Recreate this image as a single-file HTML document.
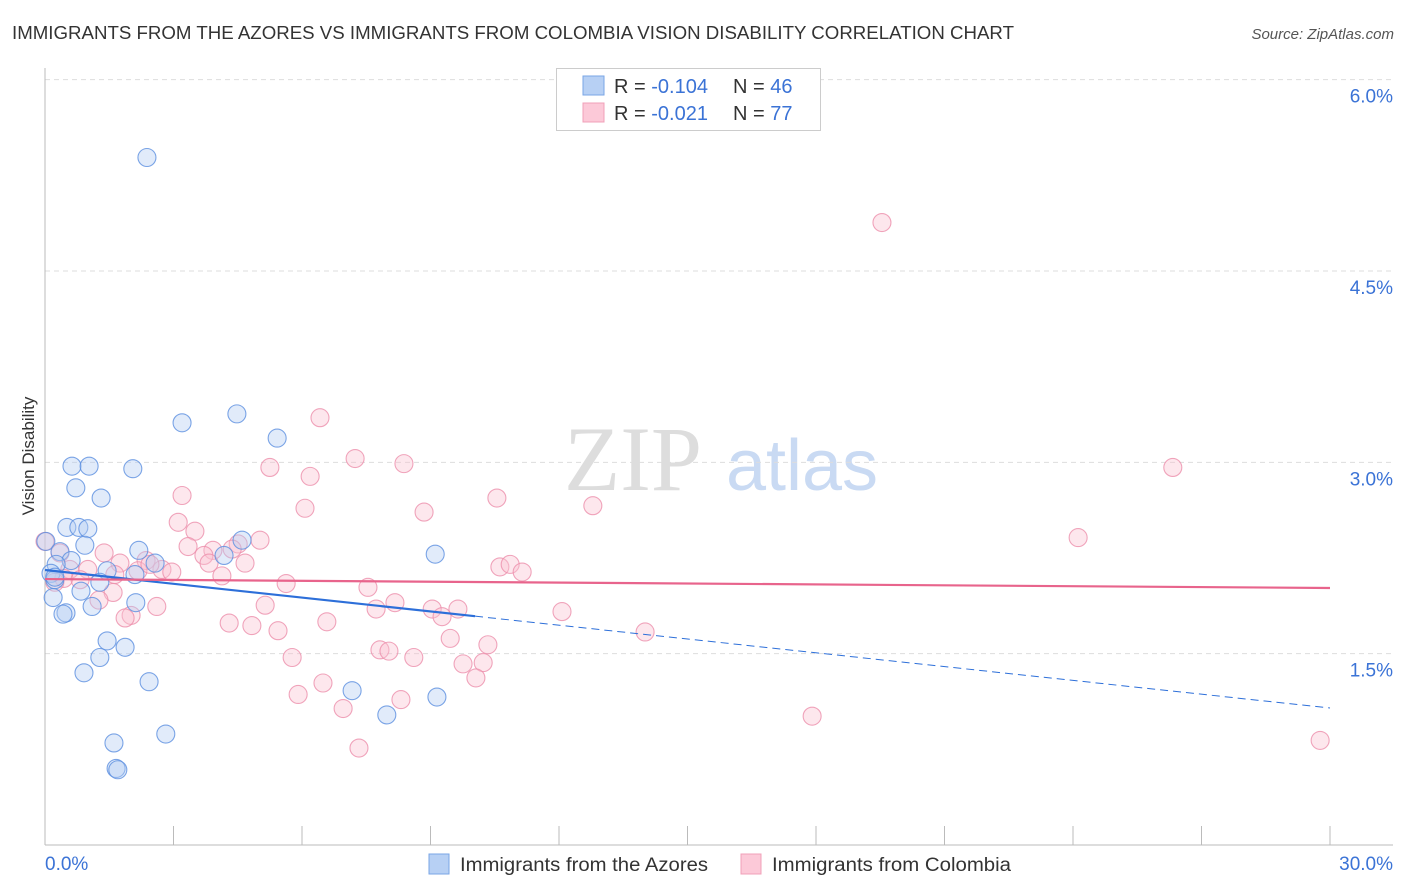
<!DOCTYPE html>
<html><head><meta charset="utf-8"><style>
body{margin:0;background:#fff;font-family:"Liberation Sans",sans-serif;}
svg{display:block}
</style></head><body>
<svg id="chart" width="1406" height="892" viewBox="0 0 1406 892">
<text x="12" y="39" font-size="18" fill="#333" textLength="1002" lengthAdjust="spacingAndGlyphs">IMMIGRANTS FROM THE AZORES VS IMMIGRANTS FROM COLOMBIA VISION DISABILITY CORRELATION CHART</text>
<text x="1394" y="39" font-size="15" fill="#555" font-style="italic" text-anchor="end">Source: ZipAtlas.com</text>
<text x="0" y="0" transform="translate(34,456) rotate(-90)" font-size="17" fill="#333" text-anchor="middle">Vision Disability</text>
<g>
<text x="633" y="490" font-size="92" font-family="Liberation Serif,serif" fill="#ddd" text-anchor="middle">ZIP</text>
<text x="802" y="490" font-size="72" fill="#c9daf3" text-anchor="middle">atlas</text>
</g>
<g id="grid"></g><g id="axes"></g><g id="pts"></g><g id="lines"></g>
<g>
<rect x="556.5" y="68.5" width="264" height="62" fill="#fff" stroke="#ccc"/>
<rect x="583" y="76" width="21" height="19" fill="#b7d0f4" stroke="#7aa6e6"/>
<rect x="583" y="103" width="21" height="19" fill="#fcc9d8" stroke="#f0a0b8"/>
<text x="614" y="93" font-size="20" fill="#333">R = <tspan fill="#3b73d6">-0.104</tspan><tspan x="733">N = </tspan><tspan fill="#3b73d6">46</tspan></text>
<text x="614" y="120" font-size="20" fill="#333">R = <tspan fill="#3b73d6">-0.021</tspan><tspan x="733">N = </tspan><tspan fill="#3b73d6">77</tspan></text>
</g>
<g>
<rect x="429" y="854" width="20" height="20" fill="#b7d0f4" stroke="#7aa6e6"/>
<text x="460" y="871" font-size="19" fill="#333" textLength="248" lengthAdjust="spacingAndGlyphs">Immigrants from the Azores</text>
<rect x="741" y="854" width="20" height="20" fill="#fcc9d8" stroke="#f0a0b8"/>
<text x="772" y="871" font-size="19" fill="#333" textLength="239" lengthAdjust="spacingAndGlyphs">Immigrants from Colombia</text>
</g>
</svg>
<script>
const blueX=[2.38,4.48,3.20,5.42,0.63,1.03,2.05,0.72,1.31,0.51,0.79,1.00,4.60,0.93,0.02,2.19,0.35,9.11,4.18,0.61,0.26,2.57,1.45,0.14,2.10,0.23,0.84,0.19,2.12,1.10,0.49,0.42,1.45,1.87,1.28,0.91,2.43,7.17,9.15,7.98,2.82,1.61,1.66,1.70,0.23,1.28];
const blueY=[5.39,3.38,3.31,3.19,2.97,2.97,2.95,2.80,2.72,2.49,2.49,2.48,2.39,2.35,2.38,2.31,2.30,2.28,2.27,2.23,2.20,2.21,2.15,2.13,2.12,2.08,1.99,1.94,1.90,1.87,1.82,1.81,1.60,1.55,1.47,1.35,1.28,1.21,1.16,1.02,0.87,0.80,0.60,0.59,2.10,2.06];
const pinkX=[19.54,6.42,7.24,8.38,26.33,5.25,6.19,3.20,10.55,6.07,8.85,12.79,3.11,3.50,24.12,5.02,4.51,0.00,3.34,3.92,4.37,3.71,1.38,0.35,2.36,3.83,10.62,4.67,1.75,10.86,2.73,0.58,1.00,11.14,1.63,2.96,2.17,4.13,0.44,0.23,5.63,7.54,1.59,5.14,8.17,2.61,9.04,9.64,7.73,12.07,2.01,1.87,9.27,4.30,4.83,6.58,5.44,9.46,14.01,10.34,7.82,8.03,8.61,5.77,9.76,10.23,6.49,10.06,5.91,8.31,6.96,17.91,7.33,29.77,1.26,2.45,0.82];
const pinkY=[4.88,3.35,3.03,2.99,2.96,2.96,2.89,2.74,2.72,2.64,2.61,2.66,2.53,2.46,2.41,2.39,2.36,2.38,2.34,2.31,2.32,2.27,2.29,2.29,2.23,2.21,2.18,2.21,2.21,2.20,2.16,2.16,2.16,2.14,2.12,2.14,2.15,2.11,2.09,2.06,2.05,2.02,1.98,1.88,1.90,1.87,1.85,1.85,1.85,1.83,1.80,1.78,1.79,1.74,1.72,1.75,1.68,1.62,1.67,1.57,1.53,1.52,1.47,1.47,1.42,1.43,1.27,1.31,1.18,1.14,1.07,1.01,0.76,0.82,1.92,2.20,2.08];
const yTicks=[1.5,3.0,4.5,6.0];
const xTickLabels=["0.0%","30.0%"];
const blueTrend=[2.156,1.074];
const pinkTrend=[2.085,2.015];
const blueSolidEnd=10.04;
const NS="http://www.w3.org/2000/svg";
const X=v=>45+v/30*1285;
const Y=v=>845-v/1.5*191.33;
function mk(parent,tag,attrs){const e=document.createElementNS(NS,tag);for(const k in attrs)e.setAttribute(k,attrs[k]);document.getElementById(parent).appendChild(e);return e;}
yTicks.forEach(t=>{
  const g=mk('grid','line',{x1:45,x2:1393,y1:Y(t),y2:Y(t),stroke:'#ddd','stroke-dasharray':'5,4'});
  
  
  const l=mk('grid','text',{x:1393,y:Y(t)+23,'font-size':19,fill:'#3b73d6','text-anchor':'end'});
  l.textContent=t.toFixed(1)+'%';
  
  
});
const ax=mk('axes','line',{x1:45,x2:1393,y1:845,y2:845,stroke:'#bbb'});


const ay=mk('axes','line',{x1:45,x2:45,y1:68,y2:845,stroke:'#bbb'});


for(let i=1;i<=10;i++){
  const t=mk('axes','line',{x1:X(i*3),x2:X(i*3),y1:826,y2:845,stroke:'#bbb'});
  
  
}
[[0,'start',45],[30,'end',1393]].forEach((p,i)=>{
  const t=mk('axes','text',{x:p[2],y:870,'font-size':19,fill:'#3b73d6','text-anchor':p[1]});
  t.textContent=xTickLabels[i];
  
  
});
function dot(x,y,f,s,n){
  const c=mk('pts','circle',{cx:X(x),cy:Y(y),r:9,fill:f,'fill-opacity':0.4,stroke:s,'stroke-opacity':0.8,'stroke-width':1.1});
  
  
}
pinkX.forEach((x,i)=>dot(x,pinkY[i],'#fbc3d3','#ec8fab','colombia-point'));
blueX.forEach((x,i)=>dot(x,blueY[i],'#b3cdf3','#5b8fe0','azores-point'));
const by=x=>blueTrend[0]+(blueTrend[1]-blueTrend[0])*x/30;
const b1=mk('lines','line',{x1:X(0),y1:Y(blueTrend[0]),x2:X(blueSolidEnd),y2:Y(by(blueSolidEnd)),stroke:'#2d6fd9','stroke-width':2.2});


const b2=mk('lines','line',{x1:X(blueSolidEnd),y1:Y(by(blueSolidEnd)),x2:X(30),y2:Y(blueTrend[1]),stroke:'#2d6fd9','stroke-width':1,'stroke-dasharray':'8,5'});


const p1=mk('lines','line',{x1:X(0),y1:Y(pinkTrend[0]),x2:X(30),y2:Y(pinkTrend[1]),stroke:'#e8648c','stroke-width':2.2});


</script>
</body></html>
